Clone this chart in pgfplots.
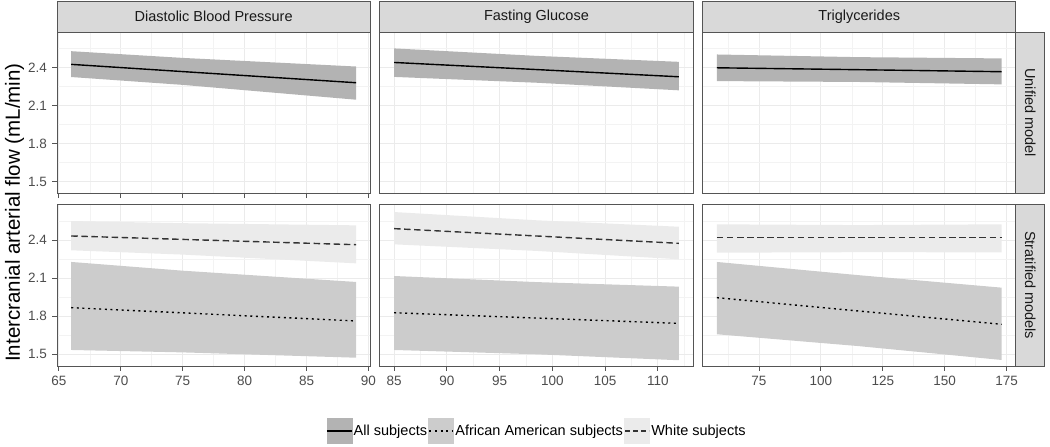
\documentclass[border=0pt]{standalone}
\usepackage{fontspec}
\setmainfont{Liberation Sans}
\usepackage{pgfplots}
\pgfplotsset{compat=1.18}
\usepackage{pgfplotstable}
\usepgfplotslibrary{groupplots,fillbetween}

\definecolor{allband}{HTML}{B3B3B3}
\definecolor{aaband}{HTML}{CCCCCC}
\definecolor{whband}{HTML}{EBEBEB}
\definecolor{stripfill}{HTML}{D9D9D9}
\definecolor{bordercol}{HTML}{555555}
\definecolor{tickcol}{HTML}{4D4D4D}
\definecolor{gridmaj}{HTML}{EBEBEB}
\definecolor{gridmin}{HTML}{F3F3F3}
\definecolor{whlinecol}{HTML}{333333}

\newcommand\tickfont{\fontsize{13.5}{15}\selectfont}
\newcommand\stripfont{\fontsize{14.5}{16}\selectfont}

% Unified model
\pgfplotstableread{
x lo mid hi
66 2.327 2.427 2.531
75 2.265 2.370 2.478
89 2.148 2.282 2.410
}\unifDBP
\pgfplotstableread{
x lo mid hi
85 2.328 2.442 2.553
98.5 2.282 2.386 2.494
112 2.222 2.329 2.447
}\unifFG
\pgfplotstableread{
x lo mid hi
58 2.295 2.400 2.505
115 2.288 2.385 2.484
173 2.269 2.369 2.474
}\unifTG
% Stratified models: White subjects
\pgfplotstableread{
x lo mid hi
66 2.321 2.434 2.552
75 2.287 2.407 2.535
89 2.218 2.365 2.518
}\strDBPW
\pgfplotstableread{
x lo mid hi
85 2.368 2.492 2.623
98.5 2.316 2.434 2.558
112 2.250 2.376 2.507
}\strFGW
\pgfplotstableread{
x lo mid hi
58 2.302 2.421 2.526
115 2.306 2.421 2.520
173 2.305 2.421 2.526
}\strTGW
% Stratified models: African American subjects
\pgfplotstableread{
x lo mid hi
66 1.534 1.868 2.229
75 1.515 1.827 2.160
89 1.473 1.763 2.071
}\strDBPA
\pgfplotstableread{
x lo mid hi
85 1.534 1.828 2.118
98.5 1.500 1.786 2.070
112 1.453 1.744 2.034
}\strFGA
\pgfplotstableread{
x lo mid hi
58 1.658 1.947 2.229
115 1.565 1.842 2.125
173 1.455 1.737 2.026
}\strTGA

\pgfplotsset{
  allline/.style={black, line width=1.4pt},
  aaline/.style={black, line width=1.4pt, dash pattern=on 2pt off 3.6pt},
  whline/.style={whlinecol, line width=1.4pt, dash pattern=on 6.5pt off 3.6pt},
}

\begin{document}
\begin{tikzpicture}
\begin{groupplot}[
  group style={group size=3 by 2, horizontal sep=9.5pt, vertical sep=11pt},
  scale only axis, width=313.3pt, height=161.5pt,
  ymin=1.4075, ymax=2.6825,
  ytick={1.5,1.8,2.1,2.4}, minor ytick={1.65,1.95,2.25,2.55},
  grid=both,
  major grid style={gridmaj, line width=0.9pt},
  minor grid style={gridmin, line width=0.6pt},
  axis line style={bordercol, line width=0.9pt},
  tick align=outside, major tick length=4.5pt, minor tick length=0pt,
  tick style={bordercol, line width=0.8pt},
  xtick pos=left, ytick pos=left,
  tick label style={font=\tickfont, text=tickcol},
  /pgf/number format/assume math mode=true,
  yticklabel style={/pgf/number format/fixed, /pgf/number format/fixed zerofill, /pgf/number format/precision=1, xshift=-2pt},
  xticklabel style={yshift=-2pt},
  clip=false,
]
% ---------------- row 1, col 1
\nextgroupplot[xmin=64.85, xmax=90.15, xtick={65,70,75,80,85,90}, minor xtick={67.5,72.5,77.5,82.5,87.5}, xticklabels={}]
\addplot[name path=u11, draw=none, forget plot] table[x=x,y=hi]{\unifDBP};
\addplot[name path=l11, draw=none, forget plot] table[x=x,y=lo]{\unifDBP};
\addplot[fill=allband, draw=none, forget plot] fill between[of=u11 and l11];
\addplot[allline, forget plot] table[x=x,y=mid]{\unifDBP};
\draw[bordercol, line width=0.9pt, fill=stripfill] (rel axis cs:0,1) rectangle ([yshift=30.5pt]rel axis cs:1,1);
\node[font=\stripfont, text=black!90] at ([yshift=15.25pt]rel axis cs:0.5,1) {Diastolic Blood Pressure};
% ---------------- row 1, col 2
\nextgroupplot[xmin=83.65, xmax=113.35, xtick={85,90,95,100,105,110}, minor xtick={87.5,92.5,97.5,102.5,107.5,112.5}, xticklabels={}, yticklabels={}, major tick length=0pt]
\addplot[name path=u12, draw=none, forget plot] table[x=x,y=hi]{\unifFG};
\addplot[name path=l12, draw=none, forget plot] table[x=x,y=lo]{\unifFG};
\addplot[fill=allband, draw=none, forget plot] fill between[of=u12 and l12];
\addplot[allline, forget plot] table[x=x,y=mid]{\unifFG};
\draw[bordercol, line width=0.9pt, fill=stripfill] (rel axis cs:0,1) rectangle ([yshift=30.5pt]rel axis cs:1,1);
\node[font=\stripfont, text=black!90] at ([yshift=15.25pt]rel axis cs:0.5,1) {Fasting Glucose};
% ---------------- row 1, col 3
\nextgroupplot[xmin=52.25, xmax=178.75, xtick={75,100,125,150,175}, minor xtick={62.5,87.5,112.5,137.5,162.5}, xticklabels={}, yticklabels={}, major tick length=0pt]
\addplot[name path=u13, draw=none, forget plot] table[x=x,y=hi]{\unifTG};
\addplot[name path=l13, draw=none, forget plot] table[x=x,y=lo]{\unifTG};
\addplot[fill=allband, draw=none, forget plot] fill between[of=u13 and l13];
\addplot[allline, forget plot] table[x=x,y=mid]{\unifTG};
\draw[bordercol, line width=0.9pt, fill=stripfill] (rel axis cs:0,1) rectangle ([yshift=30.5pt]rel axis cs:1,1);
\node[font=\stripfont, text=black!90] at ([yshift=15.25pt]rel axis cs:0.5,1) {Triglycerides};
\draw[bordercol, line width=0.9pt, fill=stripfill] (rel axis cs:1,0) rectangle ([xshift=29pt]rel axis cs:1,1);
\node[font=\stripfont, text=black!90, rotate=-90] at ([xshift=14.5pt]rel axis cs:1,0.5) {Unified model};
% ---------------- row 2, col 1
\nextgroupplot[xmin=64.85, xmax=90.15, xtick={65,70,75,80,85,90}, minor xtick={67.5,72.5,77.5,82.5,87.5}]
\addplot[name path=u21w, draw=none, forget plot] table[x=x,y=hi]{\strDBPW};
\addplot[name path=l21w, draw=none, forget plot] table[x=x,y=lo]{\strDBPW};
\addplot[fill=whband, draw=none, forget plot] fill between[of=u21w and l21w];
\addplot[name path=u21a, draw=none, forget plot] table[x=x,y=hi]{\strDBPA};
\addplot[name path=l21a, draw=none, forget plot] table[x=x,y=lo]{\strDBPA};
\addplot[fill=aaband, draw=none, forget plot] fill between[of=u21a and l21a];
\addplot[whline, forget plot] table[x=x,y=mid]{\strDBPW};
\addplot[aaline, forget plot] table[x=x,y=mid]{\strDBPA};
% ---------------- row 2, col 2
\nextgroupplot[xmin=83.65, xmax=113.35, xtick={85,90,95,100,105,110}, minor xtick={87.5,92.5,97.5,102.5,107.5,112.5}, yticklabels={}, ytick style={draw=none},
  legend columns=3, legend cell align=left,
  legend style={at={(0.5,0)}, anchor=north, yshift=-52pt, draw=none, fill=none, inner sep=0pt,
    font=\fontsize{14.5}{16}\selectfont, column sep=0pt, nodes={inner xsep=1.2pt, inner ysep=0pt}}]
\addplot[name path=u22w, draw=none, forget plot] table[x=x,y=hi]{\strFGW};
\addplot[name path=l22w, draw=none, forget plot] table[x=x,y=lo]{\strFGW};
\addplot[fill=whband, draw=none, forget plot] fill between[of=u22w and l22w];
\addplot[name path=u22a, draw=none, forget plot] table[x=x,y=hi]{\strFGA};
\addplot[name path=l22a, draw=none, forget plot] table[x=x,y=lo]{\strFGA};
\addplot[fill=aaband, draw=none, forget plot] fill between[of=u22a and l22a];
\addplot[whline, forget plot] table[x=x,y=mid]{\strFGW};
\addplot[aaline, forget plot] table[x=x,y=mid]{\strFGA};
\addlegendimage{legend image code/.code={\fill[allband] (0pt,-12.5pt) rectangle (25pt,12.5pt); \draw[black, line width=1.4pt] (0pt,0pt) -- (25pt,0pt);}}
\addlegendentry{All subjects}
\addlegendimage{legend image code/.code={\fill[aaband] (0pt,-12.5pt) rectangle (25pt,12.5pt); \draw[black, line width=1.4pt, dash pattern=on 2pt off 3.6pt] (1pt,0pt) -- (25pt,0pt);}}
\addlegendentry{African American subjects}
\addlegendimage{legend image code/.code={\fill[whband] (0pt,-12.5pt) rectangle (25pt,12.5pt); \draw[whlinecol, line width=1.4pt, dash pattern=on 5pt off 3pt] (1pt,0pt) -- (25pt,0pt);}}
\addlegendentry{White subjects}
% ---------------- row 2, col 3
\nextgroupplot[xmin=52.25, xmax=178.75, xtick={75,100,125,150,175}, minor xtick={62.5,87.5,112.5,137.5,162.5}, yticklabels={}, ytick style={draw=none}]
\addplot[name path=u23w, draw=none, forget plot] table[x=x,y=hi]{\strTGW};
\addplot[name path=l23w, draw=none, forget plot] table[x=x,y=lo]{\strTGW};
\addplot[fill=whband, draw=none, forget plot] fill between[of=u23w and l23w];
\addplot[name path=u23a, draw=none, forget plot] table[x=x,y=hi]{\strTGA};
\addplot[name path=l23a, draw=none, forget plot] table[x=x,y=lo]{\strTGA};
\addplot[fill=aaband, draw=none, forget plot] fill between[of=u23a and l23a];
\addplot[whline, forget plot] table[x=x,y=mid]{\strTGW};
\addplot[aaline, forget plot] table[x=x,y=mid]{\strTGA};
\draw[bordercol, line width=0.9pt, fill=stripfill] (rel axis cs:1,0) rectangle ([xshift=29pt]rel axis cs:1,1);
\node[font=\stripfont, text=black!90, rotate=-90] at ([xshift=14.5pt]rel axis cs:1,0.5) {Stratified models};
\end{groupplot}
\node[rotate=90, anchor=base, font=\fontsize{20.5}{22}\selectfont] at ([xshift=-37pt, yshift=-180.5pt]group c1r1.north west) {Intercranial arterial flow (mL/min)};
\pgfresetboundingbox
\path[use as bounding box] ([xshift=-57pt, yshift=32pt]group c1r1.north west) rectangle ([xshift=993pt, yshift=-415pt]group c1r1.north west);
\end{tikzpicture}
\end{document}
